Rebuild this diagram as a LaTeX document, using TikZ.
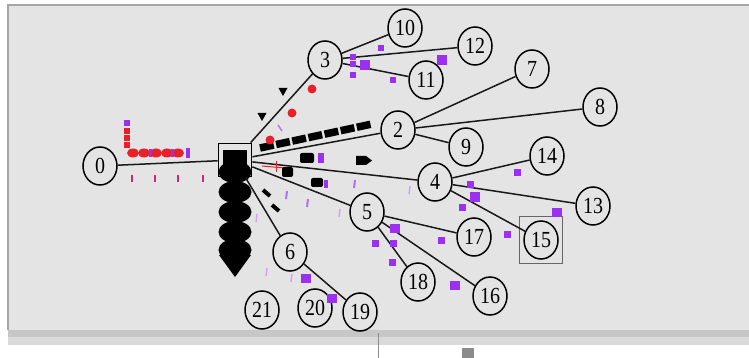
\documentclass[tikz,border=0pt]{standalone}
\usepackage{fontspec}
\setmainfont{Liberation Serif}
\usetikzlibrary{shapes.geometric}
\definecolor{panel}{HTML}{E4E4E4}
\definecolor{pkpurple}{HTML}{9B30F0}
\definecolor{pkred}{HTML}{E8202A}
\newcommand{\nlab}[1]{\scalebox{1}[1.15]{#1}}
\tikzset{
  router/.style={draw,ellipse,line width=1.5pt,minimum width=34pt,minimum height=38pt,inner sep=0pt,font=\fontsize{20}{20}\selectfont},
  hub/.style={draw,rectangle,line width=1.8pt,minimum size=33pt,inner sep=0pt},
  link/.style={line width=1.5pt,draw=black!90},
  vpk/.style={fill=pkpurple},
  rpk/.style={fill=pkred},
  faint/.style={draw=pkpurple!45,line width=1.5pt},
}
\begin{document}
\begin{tikzpicture}[x=1pt,y=-1pt]
\useasboundingbox (0,0) rectangle (749,358);
\fill[white] (0,0) rectangle (749,358);
\fill[panel] (8,5) rectangle (749,330);
\draw[black!35,line width=1.5pt] (8,330) -- (8,5) -- (749,5);
\fill[black!22] (8,330) rectangle (749,337);
\fill[black!15] (8,337) rectangle (749,345);
\draw[black!45,line width=0.8pt] (378,333) -- (378,358);
\fill[black!45] (462,348) rectangle (474,358);

\node[router] (n0) at (100,166) {\nlab{0}};
\node[hub] (n1) at (235,160) {};
\node[router] (n2) at (398,130) {\nlab{2}};
\node[router] (n3) at (325,60) {\nlab{3}};
\node[router] (n4) at (435,182) {\nlab{4}};
\node[router] (n5) at (367,212) {\nlab{5}};
\node[router] (n6) at (290,252) {\nlab{6}};
\node[router] (n7) at (532,69) {\nlab{7}};
\node[router] (n8) at (600,107) {\nlab{8}};
\node[router] (n9) at (466,147) {\nlab{9}};
\node[router] (n10) at (405,28) {\nlab{10}};
\node[router] (n11) at (426,80) {\nlab{11}};
\node[router] (n12) at (475,46) {\nlab{12}};
\node[router] (n13) at (593,206) {\nlab{13}};
\node[router] (n14) at (547,156) {\nlab{14}};
\node[router] (n15) at (541,240) {\nlab{15}};
\node[router] (n16) at (490,296) {\nlab{16}};
\node[router] (n17) at (474,237) {\nlab{17}};
\node[router] (n18) at (418,282) {\nlab{18}};
\node[router] (n19) at (360,312) {\nlab{19}};
\node[router] (n20) at (315,308) {\nlab{20}};
\node[router] (n21) at (262,310) {\nlab{21}};
\draw[black!60,line width=1pt] (519,216) rectangle (562,263);

\fill (223,150) rectangle (247,172);
\foreach \y in {172,192,212,232,250}
  \fill (235,\y) ellipse (16.5 and 11);
\fill (219,255) -- (251,255) -- (235,277) -- cycle;

\path[link] (n0) edge (n1);
\path[link] (n1) edge (n3);
\path[link] (n1) edge (n2);
\path[link] (n1) edge (n4);
\path[link] (n1) edge (n5);
\path[link] (n1) edge (n6);
\path[link] (n3) edge (n10);
\path[link] (n3) edge (n12);
\path[link] (n3) edge (n11);
\path[link] (n2) edge (n7);
\path[link] (n2) edge (n8);
\path[link] (n2) edge (n9);
\path[link] (n4) edge (n14);
\path[link] (n4) edge (n13);
\path[link] (n4) edge (n15);
\path[link] (n5) edge (n17);
\path[link] (n5) edge (n16);
\path[link] (n5) edge (n18);
\path[link] (n6) edge (n19);

\fill[vpk] (124,120) rectangle (130,126);
\foreach \y in {128,135,142}
  \fill[rpk] (124,\y) rectangle (130,\y+6);
\foreach \x in {133,144,156,167,178}
  \fill[rpk] (\x,153) ellipse (6 and 4.5);
\foreach \x in {150,172}
  \fill[vpk] (\x-1.5,149) rectangle (\x+1.5,157);
\fill[vpk] (186,148) rectangle (190,158);
\foreach \x in {132,155,178,203}
  \draw[pkred!60!pkpurple,line width=1.2pt] (\x,175) -- (\x,182);

\draw[line width=7.5pt,dash pattern=on 14pt off 2.5pt] (260,148) -- (372,124);
\foreach \x/\y in {312/89,292/113,270/140}
  \fill[rpk] (\x,\y) circle (4.5);
\foreach \x/\y in {283/92,262/117}
  \fill (\x-4.5,\y-4) -- (\x+4.5,\y-4) -- (\x,\y+4) -- cycle;
\draw[pkpurple!70,line width=1.5pt] (278,125) -- (282,131);

\draw[pkred,line width=1pt] (262,166) -- (285,168);
\draw[pkred,line width=1pt] (276,161) -- (276,172);
\fill[rounded corners=2pt] (300,153) rectangle (314,163);
\fill[vpk] (318,153) rectangle (324,163);
\fill (356,156) -- (366,156) -- (372,160.5) -- (366,165) -- (356,165) -- cycle;
\fill[rounded corners=2pt] (282,167) rectangle (293,177);
\fill[rounded corners=2pt] (311,178) rectangle (323,187);
\fill[vpk] (324,180) rectangle (328,188);
\draw[line width=4pt] (263,190) -- (270,196);
\draw[line width=4pt] (272,205) -- (279,211);
\foreach \x/\y in {287/195,308/203,355/184}
  \draw[pkpurple!70,line width=2pt] (\x,\y-4) -- (\x-1,\y+4);
\foreach \x/\y in {340/213,410/190,257/218,267/272,292/278}
  \draw[faint] (\x,\y-4) -- (\x-1,\y+4);

\foreach \x/\y in {353/57,353/64,353/75,393/80,381/48}
  \fill[vpk] (\x-3,\y-3) rectangle (\x+3,\y+3);
\foreach \x/\y in {365/65,442/60}
  \fill[vpk] (\x-5,\y-5) rectangle (\x+5,\y+5);

\foreach \x/\y in {517/173,470/185,462/207,507/234,441/240,393/243,375/243,392/262}
  \fill[vpk] (\x-3.5,\y-3.5) rectangle (\x+3.5,\y+3.5);
\foreach \x/\y in {475/197,557/212,395/228,455/285,306/278,332/298}
  \fill[vpk] (\x-5,\y-4.5) rectangle (\x+5,\y+4.5);
\end{tikzpicture}
\end{document}
